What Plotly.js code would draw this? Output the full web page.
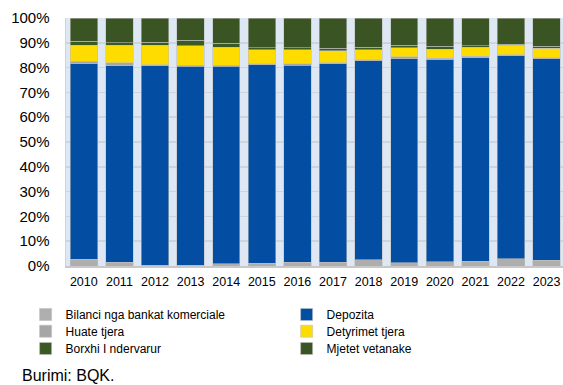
<!DOCTYPE html>
<html>
<head>
<meta charset="utf-8">
<script src="https://cdn.plot.ly/plotly-3.0.1.min.js"></script>
<style>
html,body{margin:0;padding:0;background:#fff;}
#chart{width:563px;height:385px;}
</style>
</head>
<body>
<div id="chart"></div>
<script>
const years = ["2010","2011","2012","2013","2014","2015","2016","2017","2018","2019","2020","2021","2022","2023"];
const bilanci   = [2.7, 1.5, 0.3, 0.3, 1.0, 1.2, 1.5, 1.6, 2.5, 1.3, 1.7, 2.0, 2.9, 2.4];
const depozita  = [78.8, 79.3, 80.5, 80.2, 79.5, 80.0, 79.5, 80.0, 80.2, 82.2, 81.4, 82.0, 81.9, 81.2];
const huate     = [1.0, 1.1, 0.4, 0.4, 0.5, 0.4, 0.5, 0.4, 0.4, 0.8, 0.6, 0.6, 0.4, 0.4];
const detyrimet = [6.6, 7.2, 7.9, 7.9, 7.2, 5.5, 5.7, 4.7, 4.0, 3.7, 3.8, 3.7, 3.9, 3.8];
const borxhi    = [1.6, 0.9, 1.1, 2.3, 1.6, 0.9, 0.8, 1.2, 1.1, 1.1, 1.1, 0.5, 0.3, 0.8];
const mjetet    = [9.3, 10.0, 9.8, 8.9, 10.2, 12.0, 12.0, 12.1, 11.8, 10.9, 11.4, 11.2, 10.6, 11.4];

const names  = ["Bilanci nga bankat komerciale","Depozita","Huate tjera","Detyrimet tjera","Borxhi I ndervarur","Mjetet vetanake"];
const series = [bilanci, depozita, huate, detyrimet, borxhi, mjetet];
const colors = ["#b0adad","#034ea2","#a6a6a6","#ffdc00","#3b5a23","#3a5424"];
const legendIds = ["legend","legend2","legend3","legend4","legend5","legend6"];

const traces = series.map((s, i) => ({
  type: "bar",
  name: names[i],
  x: years,
  y: s,
  legend: legendIds[i],
  marker: {color: colors[i], line: {color: "rgba(190,190,190,0.7)", width: 0.8}},
  hoverinfo: "skip"
}));

const legendBase = {
  orientation: "v",
  yanchor: "top",
  xanchor: "left",
  font: {size: 12, color: "#000"},
  traceorder: "normal",
  itemwidth: 30,
  tracegroupgap: 0,
  bgcolor: "rgba(0,0,0,0)"
};
const colX = [-0.0813, 0.4439];
const rowY = [-0.137, -0.2044, -0.2742];

const layout = {
  width: 563, height: 385,
  barmode: "stack",
  bargap: 0.23,
  paper_bgcolor: "#ffffff",
  plot_bgcolor: "#dde8f4",
  margin: {l: 66, r: 0, t: 18, b: 119},
  font: {family: "Liberation Sans, Arial, sans-serif", color: "#000000"},
  xaxis: {
    type: "category",
    range: [-0.5, 13.46],
    tickfont: {size: 12.5, color: "#000"},
    showgrid: false,
    showline: true, linecolor: "#c8c8c8", linewidth: 1.5,
    ticks: "", ticklabelstandoff: 3
  },
  yaxis: {
    range: [0, 100],
    tickvals: [0,10,20,30,40,50,60,70,80,90,100],
    ticktext: ["0%","10%","20%","30%","40%","50%","60%","70%","80%","90%","100%"],
    tickfont: {size: 15, color: "#000"},
    showgrid: true, gridcolor: "#d0d3d8", gridwidth: 1.5,
    zeroline: false,
    showline: true, linecolor: "#d0d3d8", linewidth: 1.5,
    ticks: "", ticklabelstandoff: 12
  },
  showlegend: true,
  annotations: [{
    text: "Burimi: BQK.",
    xref: "paper", yref: "paper",
    x: -0.0926, y: -0.44,
    xanchor: "left", yanchor: "middle",
    showarrow: false,
    font: {size: 16, color: "#000"}
  }]
};
legendIds.forEach((id, i) => {
  layout[id] = Object.assign({}, legendBase, {x: colX[i % 2], y: rowY[Math.floor(i / 2)]});
});

Plotly.newPlot("chart", traces, layout, {displayModeBar: false, staticPlot: true});
</script>
</body>
</html>
